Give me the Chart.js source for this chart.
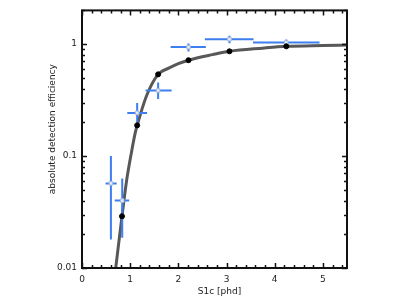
<!DOCTYPE html>
<html>
<head>
<meta charset="utf-8">
<script src="https://cdn.jsdelivr.net/npm/chart.js@4"></script>
<style>
  html, body { margin: 0; padding: 0; background: #fff; }
  #wrap { width: 399px; height: 299px; }
</style>
</head>
<body>
<div id="wrap"><canvas id="effChart" width="399" height="299"></canvas></div>
<script>
// smooth model curve
const curveX = [0.70, 0.83, 0.925, 1.03, 1.10, 1.145, 1.34, 1.58, 1.80, 2.0, 2.21, 2.71, 3.06, 3.75, 4.24, 5.0, 5.5];
const curveY = [0.010, 0.029, 0.060, 0.110, 0.158, 0.188, 0.346, 0.537, 0.61, 0.67, 0.718, 0.805, 0.862, 0.920, 0.955, 0.972, 0.980];

// black model points
const modelX = [0.83, 1.145, 1.58, 2.21, 3.06, 4.24];
const modelY = [0.029, 0.188, 0.537, 0.718, 0.862, 0.955];

// blue measured points with error bars
const measX = [0.60, 0.835, 1.145, 1.58, 2.21, 3.06, 4.24];
const measY = [0.057, 0.040, 0.243, 0.385, 0.94, 1.107, 1.035];
const xLo = [0.49, 0.68, 0.94, 1.32, 1.84, 2.55, 3.55];
const xHi = [0.72, 0.98, 1.35, 1.86, 2.57, 3.56, 4.93];
const yLo = [0.018, 0.0186, 0.201, 0.323, 0.86, 1.02, 0.94];
const yHi = [0.10, 0.063, 0.298, 0.453, 1.015, 1.19, 1.10];

const xTicks = [0, 1, 2, 3, 4, 5];
const yTicks = [0.01, 0.1, 1];

const xTitle = 'S1c [phd]';
const yTitle = 'absolute detection efficiency';

const FONT = 'DejaVu Sans';
const BLUE = '#3d7ef0';

const errorBars = {
    id: 'errorBars',
    beforeDatasetDraw(chart, args) {
        if (args.index !== 2) return;
        const ctx = chart.ctx;
        const xs = chart.scales.x, ys = chart.scales.y;
        ctx.save();
        ctx.strokeStyle = BLUE;
        ctx.lineWidth = 2;
        measX.forEach((x, i) => {
            const px = xs.getPixelForValue(x), py = ys.getPixelForValue(measY[i]);
            ctx.beginPath();
            ctx.moveTo(xs.getPixelForValue(xLo[i]), py);
            ctx.lineTo(xs.getPixelForValue(xHi[i]), py);
            ctx.moveTo(px, ys.getPixelForValue(yLo[i]));
            ctx.lineTo(px, ys.getPixelForValue(yHi[i]));
            ctx.stroke();
        });
        ctx.restore();
    }
};

// frame plus inward ticks on all four sides, and the axis titles
const frameTicks = {
    id: 'frameTicks',
    afterDraw(chart) {
        const ctx = chart.ctx;
        const a = chart.chartArea;
        const xs = chart.scales.x, ys = chart.scales.y;
        ctx.save();
        ctx.strokeStyle = '#111';
        ctx.lineWidth = 1.5;
        ctx.beginPath();
        for (let k = 0; k <= 27; k++) {
            const v = k * 0.2;
            const px = Math.round(xs.getPixelForValue(v)) + 0.5;
            const len = (k % 5 === 0) ? 5 : 3;
            ctx.moveTo(px, a.bottom); ctx.lineTo(px, a.bottom - len);
            ctx.moveTo(px, a.top); ctx.lineTo(px, a.top + len);
        }
        [0.01, 0.1, 1].forEach(dec => {
            for (let m = 1; m <= 9; m++) {
                const v = dec * m;
                if (v > 2.0001) break;
                const py = Math.round(ys.getPixelForValue(v)) + 0.5;
                const len = (m === 1) ? 5 : 3;
                ctx.moveTo(a.left, py); ctx.lineTo(a.left + len, py);
                ctx.moveTo(a.right, py); ctx.lineTo(a.right - len, py);
            }
        });
        ctx.stroke();
        ctx.lineWidth = 2;
        ctx.strokeRect(a.left, a.top, a.right - a.left, a.bottom - a.top);

        // titles
        ctx.fillStyle = '#222';
        ctx.font = '9px "' + FONT + '"';
        ctx.textAlign = 'center';
        ctx.textBaseline = 'middle';
        ctx.fillText(xTitle, (a.left + a.right) / 2 + 5, a.bottom + 24);
        ctx.translate(a.left - 29, (a.top + a.bottom) / 2 - 10);
        ctx.rotate(-Math.PI / 2);
        ctx.fillText(yTitle, 0, 0);
        ctx.restore();
    }
};

const effChart = new Chart(document.getElementById('effChart').getContext('2d'), {
    type: 'scatter',
    data: {
        datasets: [
            {
                label: 'model points',
                data: modelX.map((x, i) => ({ x: x, y: modelY[i] })),
                backgroundColor: '#000',
                borderColor: '#000',
                pointRadius: 2.5,
                order: 0
            },
            {
                label: 'curve',
                data: curveX.map((x, i) => ({ x: x, y: curveY[i] })),
                showLine: true,
                borderColor: '#585858',
                borderWidth: 3,
                pointRadius: 0,
                cubicInterpolationMode: 'monotone',
                order: 2
            },
            {
                label: 'measured',
                data: measX.map((x, i) => ({ x: x, y: measY[i] })),
                pointStyle: 'rect',
                pointRadius: 2.5,
                backgroundColor: '#e6ebf5',
                borderColor: '#a9b8d8',
                borderWidth: 1,
                order: 1
            }
        ]
    },
    options: {
        responsive: false,
        animation: false,
        layout: { padding: { left: 0, right: 52, top: 7, bottom: 0 } },
        plugins: { legend: { display: false }, tooltip: { enabled: false } },
        scales: {
            x: {
                type: 'linear',
                min: 0,
                max: 5.5,
                grid: { display: false, drawTicks: false },
                border: { display: false },
                afterBuildTicks: s => { s.ticks = xTicks.map(v => ({ value: v })); },
                afterFit: s => { s.height = 31; },
                ticks: { color: '#222', font: { family: FONT, size: 9 }, padding: 6, maxRotation: 0 }
            },
            y: {
                type: 'logarithmic',
                min: 0.01,
                max: 2,
                grid: { display: false, drawTicks: false },
                border: { display: false },
                afterBuildTicks: s => { s.ticks = yTicks.map(v => ({ value: v })); },
                afterFit: s => { s.width = 82; },
                ticks: { color: '#222', font: { family: FONT, size: 9 }, padding: 5, callback: v => String(v) }
            }
        }
    },
    plugins: [errorBars, frameTicks]
});
</script>
</body>
</html>
